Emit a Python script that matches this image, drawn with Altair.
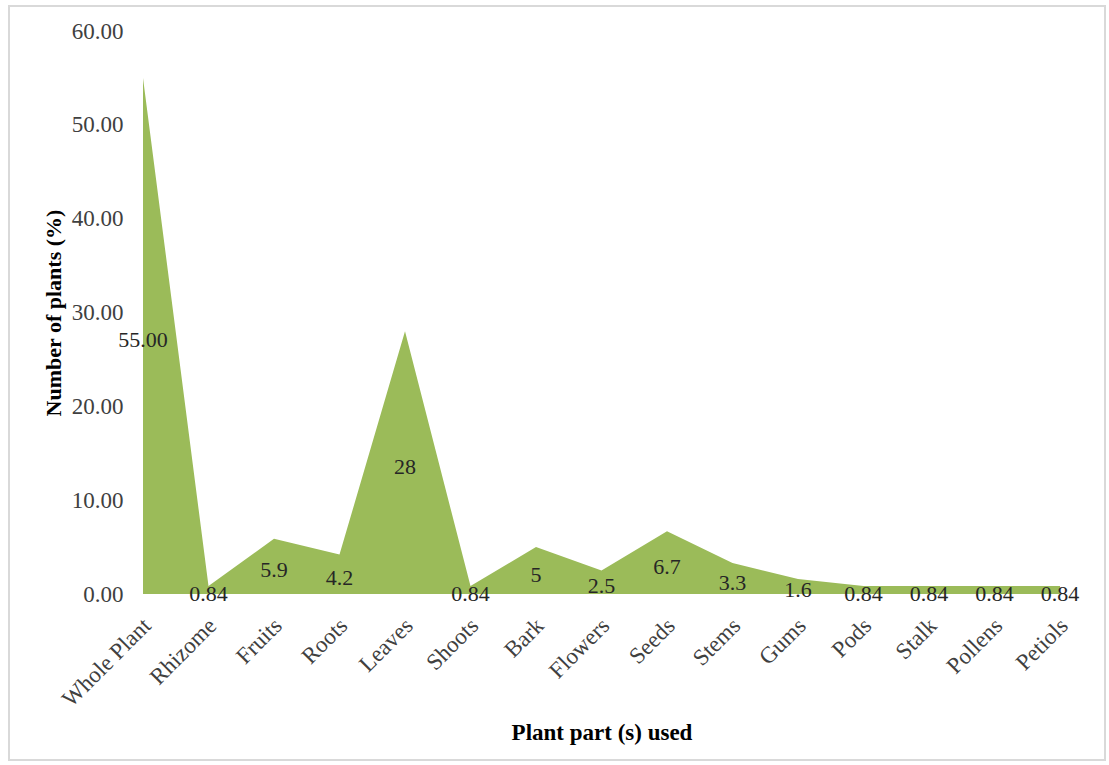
import altair as alt
import pandas as pd

# Share of medicinal plants by the plant part used
parts = ["Whole Plant", "Rhizome", "Fruits", "Roots", "Leaves", "Shoots", "Bark",
         "Flowers", "Seeds", "Stems", "Gums", "Pods", "Stalk", "Pollens", "Petiols"]
values = [55.00, 0.84, 5.9, 4.2, 28, 0.84, 5, 2.5, 6.7, 3.3, 1.6, 0.84, 0.84, 0.84, 0.84]
labels = ["55.00", "0.84", "5.9", "4.2", "28", "0.84", "5", "2.5", "6.7", "3.3",
          "1.6", "0.84", "0.84", "0.84", "0.84"]

df = pd.DataFrame({"part": parts, "value": values, "label": labels})

FONT = "Liberation Serif"
W, H = 917, 563

x_enc = alt.X(
    "part:N",
    sort=parts,
    scale=alt.Scale(type="point", padding=0),
    axis=alt.Axis(
        title="Plant part (s) used",
        labelAngle=-45,
        labelFont=FONT,
        labelFontSize=23,
        labelColor="#404040",
        labelPadding=20,
        labelOffset=-4,
        ticks=False,
        domain=False,
        titleFont=FONT,
        titleFontSize=23,
        titleFontWeight="bold",
        titleColor="#000000",
        titleY=138,
        titleBaseline="middle",
    ),
)

area = alt.Chart(df).mark_area(color="#9BBB59", opacity=1).encode(
    x=x_enc,
    y=alt.Y(
        "value:Q",
        scale=alt.Scale(domain=[0, 60], nice=False),
        axis=alt.Axis(
            title="Number of plants (%)",
            values=[0, 10, 20, 30, 40, 50, 60],
            format=".2f",
            labelFont=FONT,
            labelFontSize=23,
            labelColor="#404040",
            labelPadding=20,
            ticks=False,
            domain=False,
            grid=False,
            titleFont=FONT,
            titleFontSize=22,
            titleFontWeight="bold",
            titleColor="#000000",
            titlePadding=6,
        ),
    ),
)

# Data labels sit halfway up each point
text = alt.Chart(df).transform_calculate(
    mid="datum.value / 2"
).mark_text(
    font=FONT, fontSize=22, color="#262626", baseline="middle", align="center", dy=4
).encode(
    x=alt.X("part:N", sort=parts),
    y=alt.Y("mid:Q"),
    text="label:N",
)

# Light outer frame around the whole figure
frame = alt.Chart(df).mark_rect(
    fill=None, stroke="#d9d9d9", strokeWidth=1.5
).encode(
    x=alt.value(-134), x2=alt.value(962),
    y=alt.value(-25), y2=alt.value(729),
)

chart = alt.layer(frame, area, text).properties(
    width=W,
    height=H,
    autosize=alt.AutoSizeParams(type="none"),
    padding={"left": 143, "top": 31, "right": 49, "bottom": 171},
    background="white",
).configure_view(stroke=None)

chart.save("out.html", embed_options={"renderer": "svg", "actions": False})
